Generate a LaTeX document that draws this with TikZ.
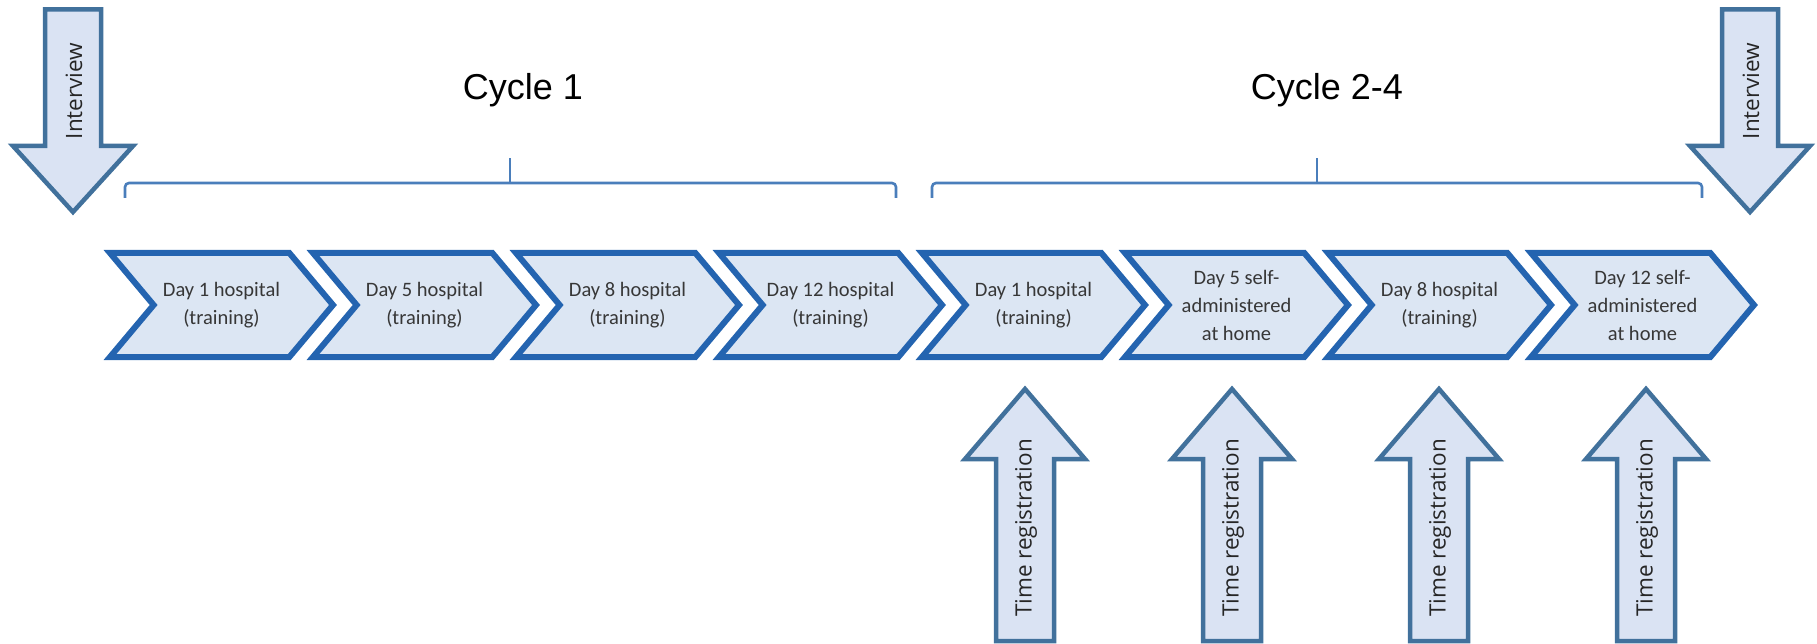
\documentclass[tikz,border=0pt]{standalone}
\usepackage{fontspec}
\setmainfont{Carlito}
\newfontfamily\arrowfont{Open Sans}
\newfontfamily\titlefont{Liberation Sans}
\usetikzlibrary{shapes.symbols}

\definecolor{chevblue}{RGB}{36,100,176}
\definecolor{chevfill}{RGB}{220,230,243}
\definecolor{daytext}{RGB}{55,55,55}
\definecolor{arrowblue}{RGB}{65,113,156}
\definecolor{arrowfill}{RGB}{218,227,243}
\definecolor{braceblue}{RGB}{74,126,187}

\begin{document}
\begin{tikzpicture}[x=1pt, y=-1pt,
  day/.style        = {signal, signal from=west, signal to=east, signal pointer angle=100,
                       draw=chevblue, line width=6pt, fill=chevfill, inner sep=0pt,
                       minimum width=223pt, minimum height=104pt, align=center,
                       font=\fontsize{20.5}{28}\selectfont, text=daytext},
  blockarrow/.style = {draw=arrowblue, line width=4.5pt, fill=arrowfill, line join=miter},
  vlabel/.style     = {rotate=90, inner sep=0pt, text=black!85,
                       font=\arrowfont\fontsize{22.5}{26}\selectfont},
  cyclelabel/.style = {anchor=base, font=\titlefont\fontsize{36}{40}\selectfont},
  bracket/.style    = {draw=braceblue, line width=2.6pt, rounded corners=4pt}]

\useasboundingbox (0,0) rectangle (1817,644);

% treatment days (y = 305)
\foreach \i/\txt in {1/{Day 1 hospital\\(training)}, 2/{Day 5 hospital\\(training)},
                     3/{Day 8 hospital\\(training)}, 4/{Day 12 hospital\\(training)},
                     5/{Day 1 hospital\\(training)}, 6/{Day 5 self-\\administered\\at home},
                     7/{Day 8 hospital\\(training)}, 8/{Day 12 self-\\administered\\at home}}
  \node[day] (d\i) at ({221.5+203*(\i-1)},305) {\txt};

% cycle brackets
\coordinate (b1l) at (125,198);  \coordinate (b1r) at (896,198);
\coordinate (b1m) at (510,183);  \coordinate (b1t) at (510,158);
\coordinate (b2l) at (932,198);  \coordinate (b2r) at (1702,198);
\coordinate (b2m) at (1317,183); \coordinate (b2t) at (1317,158);
\draw[bracket] (b1l) |- (b1m) -| (b1r);
\draw[bracket] (b1m) -- (b1t);
\draw[bracket] (b2l) |- (b2m) -| (b2r);
\draw[bracket] (b2m) -- (b2t);

\node[cyclelabel] (cyc1) at (523,100)  {Cycle 1};
\node[cyclelabel] (cyc2) at (1327,100) {Cycle 2-4};

% interviews before and after
\foreach \n/\cx in {ivl/73, ivr/1750} {
  \draw[blockarrow] (\cx-28,9.5) -- (\cx+28,9.5) -- (\cx+28,146) -- (\cx+60,146)
                    -- (\cx,212) -- (\cx-60,146) -- (\cx-28,146) -- cycle;
  \node[vlabel] (\n) at (\cx+1,91) {Interview};
}

% time registration in cycles 2-4
\foreach \i/\cx in {1/1025, 2/1232, 3/1439, 4/1646} {
  \draw[blockarrow] (\cx,389) -- (\cx+60,459) -- (\cx+29,459) -- (\cx+29,641)
                    -- (\cx-29,641) -- (\cx-29,459) -- (\cx-60,459) -- cycle;
  \node[vlabel] (tr\i) at (\cx+1,528) {Time registration};
}

\end{tikzpicture}
\end{document}
